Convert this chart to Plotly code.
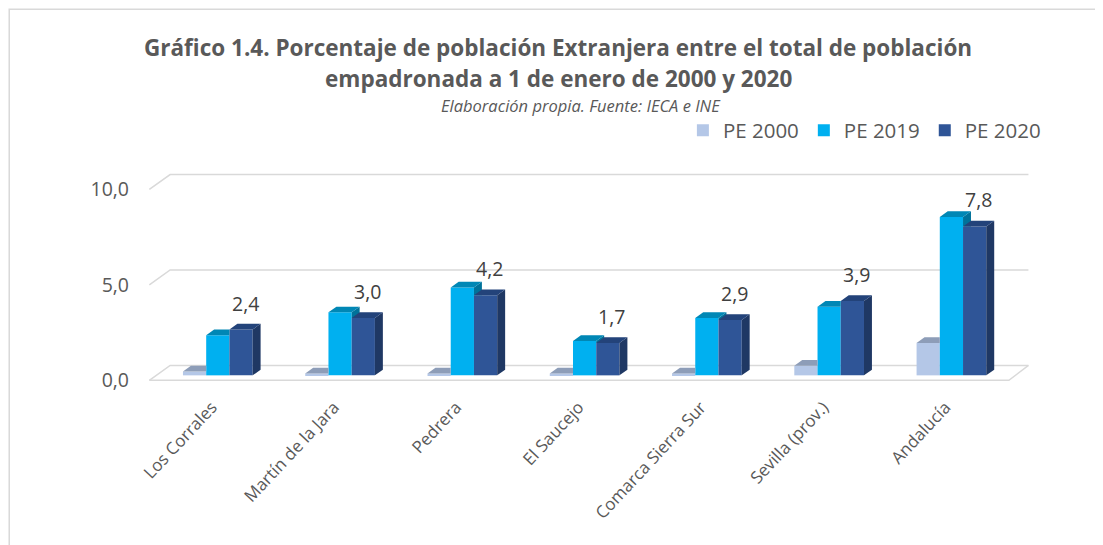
import plotly.graph_objects as go

# ---------------- data ----------------
categories = ["Los Corrales", "Martín de la Jara", "Pedrera", "El Saucejo",
              "Comarca Sierra Sur", "Sevilla (prov.)", "Andalucía"]
series_names = ["PE 2000", "PE 2019", "PE 2020"]
pe2000 = [0.2, 0.1, 0.1, 0.1, 0.1, 0.5, 1.7]
pe2019 = [2.1, 3.3, 4.6, 1.8, 3.0, 3.6, 8.3]
pe2020 = [2.4, 3.0, 4.2, 1.7, 2.9, 3.9, 7.8]
y_ticks = [0, 5, 10]

# ---------------- style ----------------
front_colors = ["#B4C7E7", "#00B0F0", "#2F5597"]
top_colors = ["#8D9DB8", "#0087B5", "#23437A"]
side_colors = ["#8D9DB8", "#00729A", "#1F3864"]
FONT = "Open Sans"
GREY = "#595959"

PAGE_OFF = 8          # default body margin of the html page
W, H = 1103 - PAGE_OFF, 545 - PAGE_OFF
# plot area in page pixels
PL, PR = 141.6, 1037.1
PT, PB = 172.5, 382.6
XR = [-0.62, 6.70]
YR = [-0.4, 10.6]

BW = 0.19            # bar width (x units)
OFFS = [-0.285, -0.095, 0.095]
DX, DY = 0.065, 0.30  # 3D depth


def px2paper(x, y):
    return (x - PL) / (PR - PL), (PB - y) / (PB - PT)


def clip(poly, inside, inter):
    out = []
    n = len(poly)
    for i in range(n):
        cur, prev = poly[i], poly[i - 1]
        if inside(cur):
            if not inside(prev):
                out.append(inter(prev, cur))
            out.append(cur)
        elif inside(prev):
            out.append(inter(prev, cur))
    return out


def clip_y_ge(poly, yc):
    def inter(a, b):
        t = (yc - a[1]) / (b[1] - a[1])
        return (a[0] + t * (b[0] - a[0]), yc)
    return clip(poly, lambda p: p[1] >= yc, inter)


def clip_x_le(poly, xc):
    def inter(a, b):
        t = (xc - a[0]) / (b[0] - a[0])
        return (xc, a[1] + t * (b[1] - a[1]))
    return clip(poly, lambda p: p[0] <= xc, inter)


all_series = [pe2000, pe2019, pe2020]
fig = go.Figure()

# front faces as bars
for k, (name, vals) in enumerate(zip(series_names, all_series)):
    fig.add_trace(go.Bar(
        x=list(range(len(categories))), y=vals, name=name,
        width=BW, offset=OFFS[k],
        marker=dict(color=front_colors[k], line=dict(width=0)),
        hoverinfo="skip",
    ))

# 3D top and side faces
for k, vals in enumerate(all_series):
    sx, sy, tx, ty = [], [], [], []
    for i, v in enumerate(vals):
        xl = i + OFFS[k]
        xr = xl + BW
        side = [(xr, 0), (xr + DX, DY), (xr + DX, v + DY), (xr, v)]
        top = [(xl, v), (xl + DX, v + DY), (xr + DX, v + DY), (xr, v)]
        if k < 2:
            vn = all_series[k + 1][i]
            side = clip_y_ge(side, vn)
            if vn > v:
                top = clip_x_le(top, xr)
        for poly, X, Y in ((side, sx, sy), (top, tx, ty)):
            if len(poly) >= 3:
                X.extend([p[0] for p in poly] + [poly[0][0], None])
                Y.extend([p[1] for p in poly] + [poly[0][1], None])
    for X, Y, c in ((sx, sy, side_colors[k]), (tx, ty, top_colors[k])):
        fig.add_trace(go.Scatter(
            x=X, y=Y, mode="lines", fill="toself", fillcolor=c,
            line=dict(width=0, color=c), showlegend=False, hoverinfo="skip",
        ))

# gridlines / floor in pseudo 3D
FL, BL, FRt, BRt = -0.56, -0.39, 6.47, 6.63
F_OFF, B_OFF = -0.26, 0.52
shapes = []
gcol = "#D9D9D9"
for v in y_ticks:
    shapes.append(dict(type="path", xref="x", yref="y", layer="below",
                       path=f"M {FL},{v + F_OFF} L {BL},{v + B_OFF} L {BRt},{v + B_OFF}",
                       line=dict(color=gcol, width=1.5)))
shapes.append(dict(type="path", xref="x", yref="y", layer="below",
                   path=f"M {FL},{F_OFF} L {FRt},{F_OFF} L {BRt},{B_OFF}",
                   line=dict(color=gcol, width=1.5)))

# chart frame (left and top)
x0, y0 = px2paper(8.75, 560)
x1, y1 = px2paper(8.75, 8.75)
x2, _ = px2paper(1110, 8.75)
shapes.append(dict(type="path", xref="paper", yref="paper",
                   path=f"M {x0},{y0} L {x1},{y1} L {x2},{y1}",
                   line=dict(color="#D9D9D9", width=1.5)))

annotations = []
# data labels for PE 2020
for i, v in enumerate(pe2020):
    annotations.append(dict(
        x=i + OFFS[2] + BW / 2 + DX / 2, y=v, xref="x", yref="y",
        text=f"{v:.1f}".replace(".", ","), showarrow=False,
        yanchor="bottom", yshift=11,
        font=dict(family=FONT, size=19.5, color="#404040"),
    ))

# title lines
for text, cx, py, size, bold, italic in [
    ("Gráfico 1.4. Porcentaje de población Extranjera entre el total de población", 558, 47, 22.5, True, False),
    ("empadronada a 1 de enero de 2000 y 2020", 558, 78, 22.5, True, False),
    ("Elaboración propia. Fuente: IECA e INE", 581, 105, 16.5, False, True),
]:
    ax, ay = px2paper(cx, py)
    t = text
    if bold:
        t = f"<b>{t}</b>"
    if italic:
        t = f"<i>{t}</i>"
    annotations.append(dict(x=ax, y=ay, xref="paper", yref="paper", text=t,
                            showarrow=False, xanchor="center", yanchor="middle",
                            font=dict(family=FONT, size=size, color=GREY)))

lx, ly = px2paper(1046, 130)

fig.update_layout(
    width=W, height=H,
    margin=dict(l=PL - PAGE_OFF, r=1103 - PR, t=PT - PAGE_OFF, b=545 - PB,
                autoexpand=False),
    paper_bgcolor="white", plot_bgcolor="white",
    barmode="overlay",
    separators=",.",
    showlegend=True,
    legend=dict(orientation="h", x=lx, y=ly, xanchor="right", yanchor="middle",
                font=dict(family=FONT, size=20.5, color=GREY),
                bgcolor="rgba(0,0,0,0)", traceorder="normal"),
    xaxis=dict(range=XR, tickmode="array", tickvals=list(range(len(categories))),
               ticktext=categories, tickangle=-47, showgrid=False, zeroline=False,
               showline=False, ticks="", automargin=False,
               ticklabelstandoff=10, ticklabelshift=-6,
               tickfont=dict(family=FONT, size=17, color=GREY)),
    yaxis=dict(range=YR, tickmode="array", tickvals=y_ticks,
               ticktext=[f"{v:.1f}".replace(".", ",") for v in y_ticks],
               showgrid=False, zeroline=False, showline=False, ticks="",
               automargin=False, ticklabelstandoff=12, ticklabelshift=5,
               tickfont=dict(family=FONT, size=19.5, color=GREY)),
    shapes=shapes,
    annotations=annotations,
)

fig.write_html("out.html")
